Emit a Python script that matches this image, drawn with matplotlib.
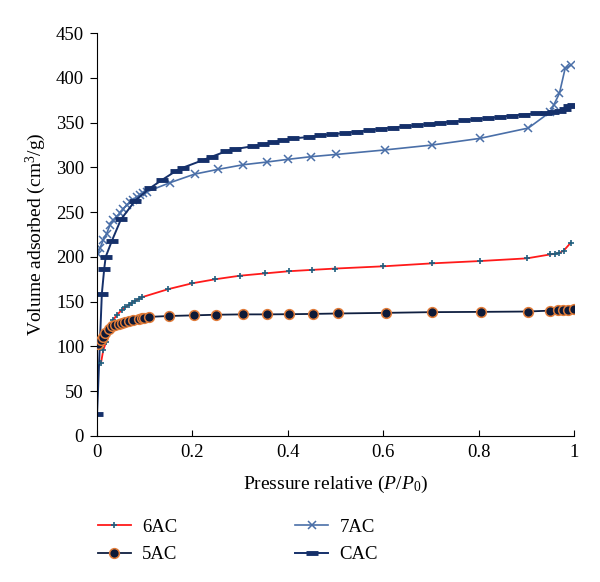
import matplotlib
matplotlib.use('Agg')
import matplotlib.pyplot as plt

plt.rcParams['font.family'] = ['Liberation Serif', 'DejaVu Serif']
plt.rcParams['mathtext.fontset'] = 'custom'
plt.rcParams['mathtext.it'] = 'Liberation Serif:italic'
plt.rcParams['mathtext.rm'] = 'Liberation Serif'

# 6AC
x_6ac = [0.009, 0.014, 0.020, 0.028, 0.035, 0.042, 0.053, 0.060, 0.067, 0.074, 0.081,
         0.088, 0.095, 0.150, 0.200, 0.248, 0.300, 0.353, 0.402, 0.450, 0.500, 0.600,
         0.702, 0.803, 0.901, 0.950, 0.960, 0.969, 0.978, 0.993]
y_6ac = [81, 96, 105, 122, 129.5, 135, 140.7, 144, 146, 149, 151,
         153, 155, 164, 170.5, 175, 179, 181.6, 184, 185.5, 187, 189.5,
         192.8, 195.4, 198.4, 202.8, 203.5, 204.5, 207, 216]

# 5AC
x_5ac = [0.002, 0.009, 0.013, 0.018, 0.025, 0.032, 0.039, 0.046, 0.053, 0.060, 0.067,
         0.077, 0.088, 0.095, 0.100, 0.110, 0.152, 0.203, 0.250, 0.306, 0.357, 0.403,
         0.453, 0.505, 0.605, 0.702, 0.805, 0.903, 0.950, 0.966, 0.977, 0.987, 0.999]
y_5ac = [103, 107, 110, 114.6, 120, 122.5, 124, 125.5, 126.5, 127.5, 128.5,
         130, 131, 131.8, 132.3, 133, 134, 134.7, 135.4, 135.8, 135.8, 136,
         136.3, 136.8, 137.5, 138.3, 138.6, 139, 140, 140.5, 141, 141.2, 141.5]

# 7AC
x_7ac = [0.002, 0.007, 0.014, 0.021, 0.028, 0.035, 0.042, 0.049, 0.056, 0.063, 0.070,
         0.077, 0.084, 0.091, 0.098, 0.105, 0.154, 0.205, 0.254, 0.307, 0.356, 0.400,
         0.449, 0.502, 0.603, 0.702, 0.802, 0.904, 0.950, 0.957, 0.969, 0.981, 0.993]
y_7ac = [203, 209.6, 219, 226, 235.6, 241, 245, 249, 254, 258, 261.6,
         263.5, 267, 269, 271, 272.8, 283, 292.5, 297.8, 303, 306, 309,
         312, 314.5, 319.5, 325, 332.4, 344, 362, 369.6, 382.7, 410.6, 414.3]

# CAC
x_cac = [0.001, 0.011, 0.016, 0.019, 0.032, 0.051, 0.081, 0.111, 0.137, 0.166, 0.180,
         0.222, 0.241, 0.271, 0.290, 0.328, 0.349, 0.370, 0.391, 0.412, 0.444, 0.468,
         0.493, 0.520, 0.545, 0.570, 0.595, 0.620, 0.645, 0.670, 0.695, 0.720, 0.745,
         0.770, 0.795, 0.820, 0.845, 0.870, 0.895, 0.920, 0.940, 0.955, 0.970, 0.980,
         0.990, 0.997]
y_cac = [25, 159, 187, 200, 218, 242, 263, 276.6, 286, 296, 299.6,
         308, 312, 318, 320.5, 323.8, 326, 328, 330.5, 332.4, 334, 336,
         337, 338.5, 340, 341.5, 343, 344.5, 346, 347, 348.5, 350, 351,
         352.5, 354, 355, 356.5, 358, 359, 360.5, 361, 362, 363.5, 365.5,
         368.5, 370]

fig = plt.figure(figsize=(6.0, 5.82), dpi=100)
ax = fig.add_axes([0.161, 0.251, 0.796, 0.692])

ax.plot(x_6ac, y_6ac, color='#ff1a1a', lw=1.3, marker='+', ms=5, mew=1.2,
        mec='#1f5f7f', label='6AC', zorder=3)
ax.plot(x_5ac, y_5ac, color='#0f1f40', lw=1.3, marker='o', ms=7, mew=1.1,
        mfc='#0d1a38', mec='#e07b39', label='5AC', zorder=3)
ax.plot(x_7ac, y_7ac, color='#4a6fa8', lw=1.2, marker='x', ms=6, mew=1.1,
        label='7AC', zorder=2)
ax.plot(x_cac, y_cac, color='#15306a', lw=1.4, marker='_', ms=9, mew=3.5,
        label='CAC', zorder=2)

ax.set_xlim(0, 1)
ax.set_ylim(0, 450)
ax.set_xticks([0, 0.2, 0.4, 0.6, 0.8, 1])
ax.set_xticklabels(['0', '0.2', '0.4', '0.6', '0.8', '1'])
ax.set_yticks(range(0, 451, 50))
ax.spines['top'].set_visible(False)
ax.spines['right'].set_visible(False)
ax.tick_params(axis='x', direction='in', length=4, labelsize=13.5, pad=6)
ax.tick_params(axis='y', direction='out', length=5, labelsize=13.5, pad=4)

ax.set_xlabel('Pressure relative ($P/P_0$)', fontsize=14, labelpad=9)
ax.set_ylabel('Volume adsorbed (cm$^3$/g)', fontsize=14, labelpad=6)

fig.legend(loc='center left', bbox_to_anchor=(0.163, 1 - 541 / 582), ncol=2,
           frameon=False, fontsize=13.5, handlelength=1.75, handletextpad=0.6,
           columnspacing=6.3, labelspacing=0.55, borderpad=0, borderaxespad=0)

fig.savefig('out.png', dpi=100)
